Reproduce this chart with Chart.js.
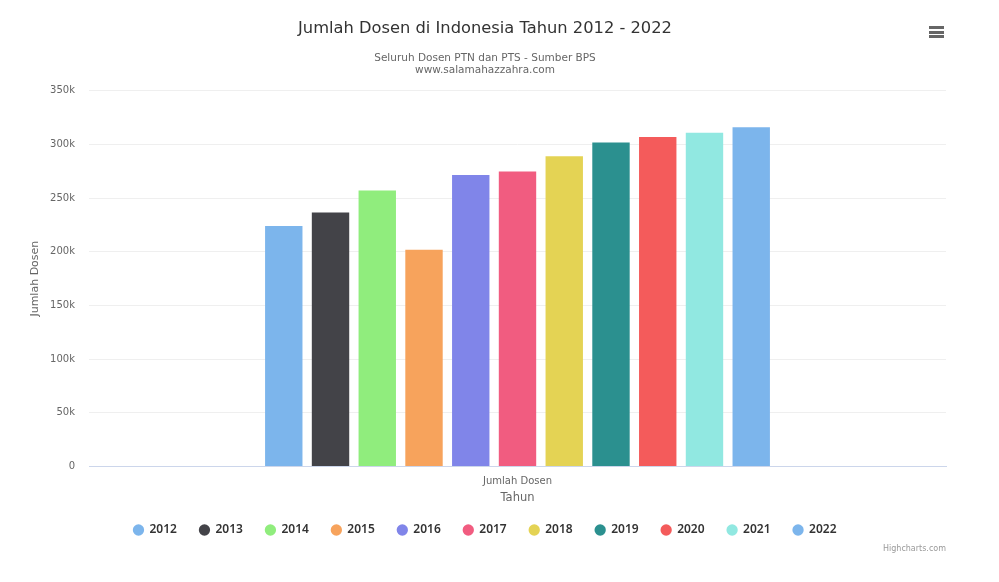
<!DOCTYPE html>
<html lang="id">
<head>
<meta charset="utf-8">
<title>Jumlah Dosen di Indonesia</title>
<script src="https://cdn.jsdelivr.net/npm/chart.js@4/dist/chart.umd.min.js"></script>
<style>
    html, body { margin: 0; padding: 0; background: #fff; }
    #wrap { position: relative; width: 999px; height: 582px; overflow: hidden; }
    #credit { position: absolute; right: 53px; top: 544px; font: 8px "DejaVu Sans", sans-serif; color: #999; }
    #menu { position: absolute; left: 929px; top: 26px; width: 15px; }
    #menu div { height: 3px; background: #666; margin-bottom: 1.5px; }
</style>
</head>
<body>
<div id="wrap">
    <canvas id="dosenChart" width="999" height="582"></canvas>
    <div id="menu"><div></div><div></div><div></div></div>
    <div id="credit">Highcharts.com</div>
</div>
<script>
// Data
const tahun = ['2012', '2013', '2014', '2015', '2016', '2017', '2018', '2019', '2020', '2021', '2022'];
const jumlahDosen = [224000, 236500, 257000, 202000, 271500, 274700, 289000, 301700, 307000, 311000, 316000];
const warna = ['#7cb5ec', '#434348', '#90ed7d', '#f7a35c', '#8085e9', '#f15c80', '#e4d354', '#2b908f', '#f45b5b', '#91e8e1', '#7cb5ec'];
const kategori = ['Jumlah Dosen'];
const FONT = '"DejaVu Sans", sans-serif';

new Chart(document.getElementById('dosenChart'), {
    type: 'bar',
    data: {
        labels: kategori,
        datasets: tahun.map((t, i) => ({
            label: t,
            data: [jumlahDosen[i]],
            backgroundColor: warna[i],
            borderWidth: 0,
            categoryPercentage: 0.6,
            barPercentage: 0.8
        }))
    },
    options: {
        responsive: false,
        animation: false,
        layout: { padding: { left: 24, right: 53, top: 19, bottom: 36 } },
        scales: {
            x: {
                afterFit: scale => { scale.height = 35; },
                grid: { display: false, drawTicks: false },
                border: { color: '#ccd6eb', width: 1 },
                ticks: { color: '#666', font: { family: FONT, size: 10 }, padding: 9 },
                title: { display: true, text: 'Tahun', color: '#666', font: { family: FONT, size: 11.5 }, padding: { top: 0, bottom: -3.5 } }
            },
            y: {
                min: 0,
                max: 350000,
                afterFit: scale => { scale.width = 65; },
                grid: { color: '#efefef', drawTicks: false },
                border: { display: false },
                ticks: {
                    stepSize: 50000,
                    color: '#666',
                    padding: 14,
                    font: { family: FONT, size: 10 },
                    callback: v => v === 0 ? '0' : (v / 1000) + 'k'
                },
                title: { display: true, text: 'Jumlah Dosen', color: '#666', font: { family: FONT, size: 11 }, padding: { top: 5, bottom: 0 } }
            }
        },
        plugins: {
            title: {
                display: true,
                text: 'Jumlah Dosen di Indonesia Tahun 2012 - 2022',
                color: '#333',
                font: { family: FONT, size: 16.3, weight: 'normal' },
                padding: { top: 0, bottom: 13 }
            },
            subtitle: {
                display: true,
                text: ['Seluruh Dosen PTN dan PTS - Sumber BPS', 'www.salamahazzahra.com'],
                color: '#666',
                font: { family: FONT, size: 10.5, lineHeight: 1.2 },
                padding: { top: 0, bottom: 14 }
            },
            legend: {
                position: 'bottom',
                labels: {
                    usePointStyle: true,
                    pointStyle: 'circle',
                    boxWidth: 10,
                    boxHeight: 8,
                    padding: 22.5,
                    color: '#333',
                    font: { family: '"Noto Sans", sans-serif', size: 12, weight: '600' }
                }
            },
            tooltip: { enabled: false }
        }
    }
});
</script>
</body>
</html>
